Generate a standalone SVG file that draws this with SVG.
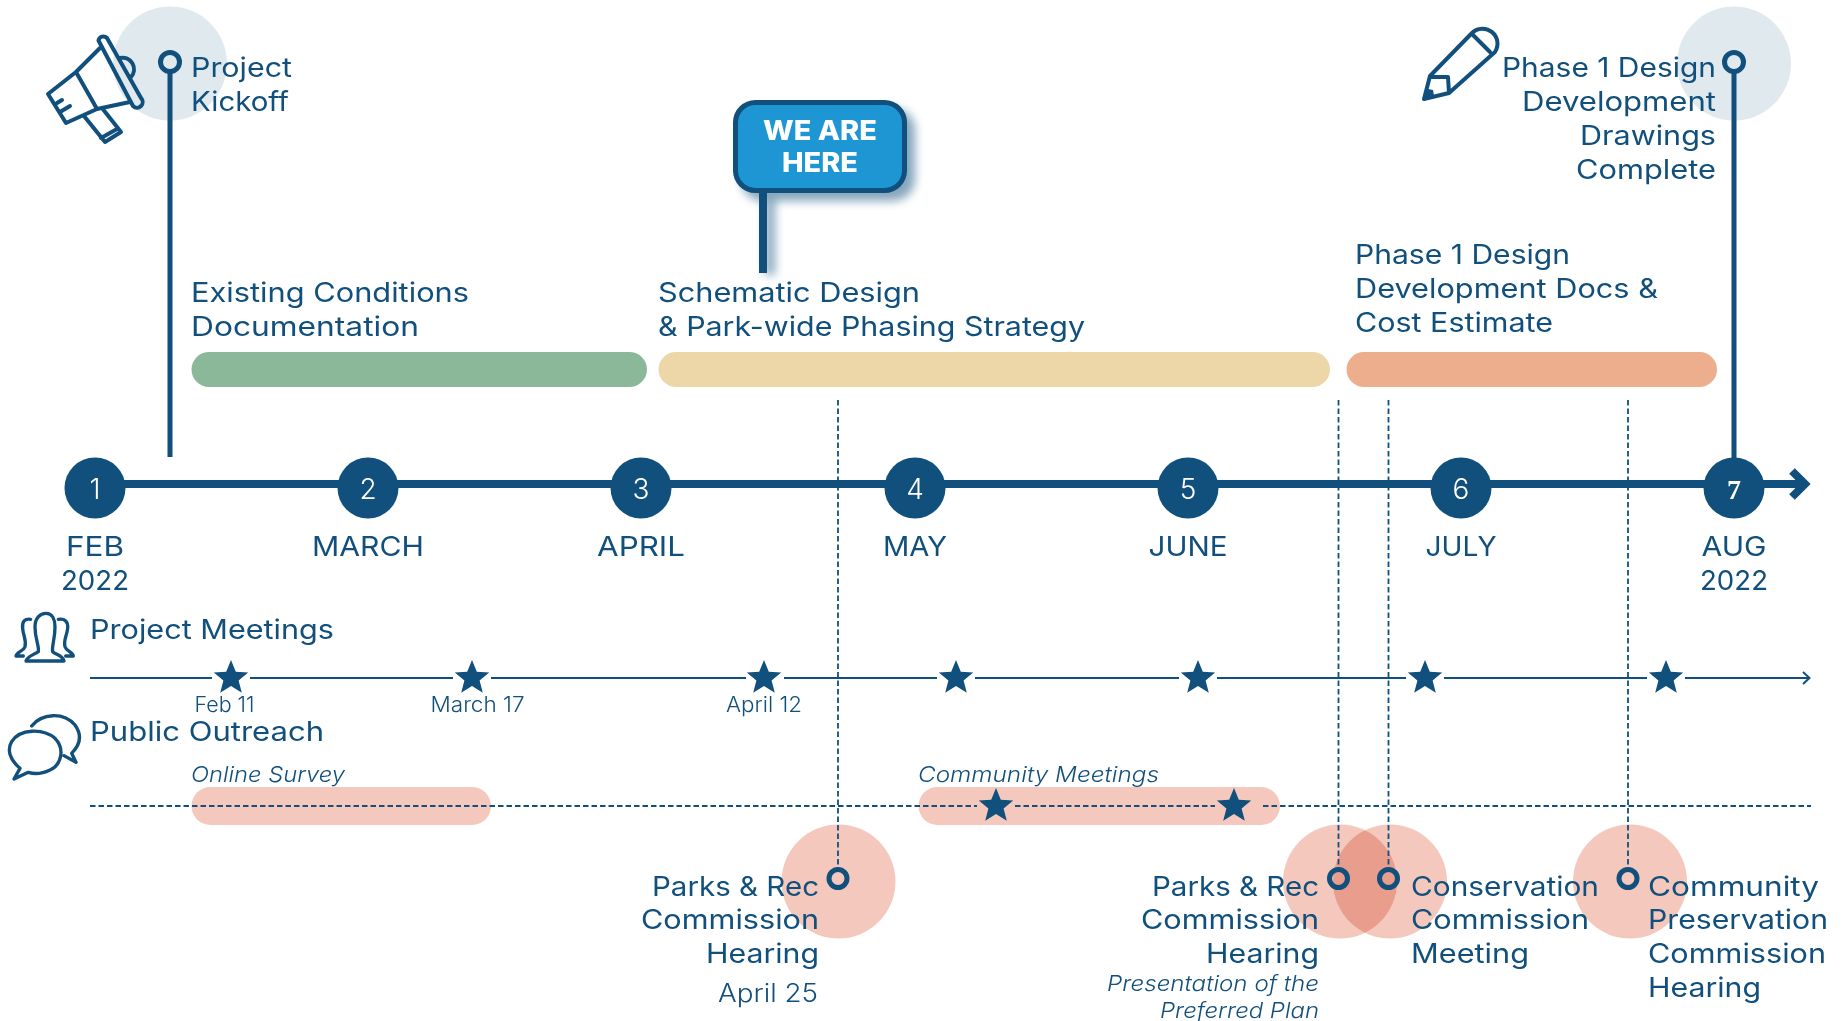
<svg xmlns="http://www.w3.org/2000/svg" width="1842" height="1021" viewBox="0 0 1842 1021">
<style>
text{font-family:"Inter","Liberation Sans",sans-serif;fill:#114f7c;font-weight:400}
.l{font-size:27px}
.e{text-anchor:end}
.m{text-anchor:middle}
.i{font-style:italic;font-size:22px;font-weight:300}
.d{font-size:21px;font-weight:300;text-anchor:middle}
.n{font-size:28px;fill:#fff;text-anchor:middle;font-weight:300}
.ic{fill:none;stroke:#114f7c;stroke-width:4;stroke-linejoin:round;stroke-linecap:round}
.pin{fill:none;stroke:#114f7c;stroke-width:5}
.halo{fill:#f4c8bd;mix-blend-mode:multiply}
.grey{fill:#e0e9ed}
.dash{fill:none;stroke:#114f7c;stroke-width:1.800;stroke-dasharray:5.500 3}
.thin{fill:none;stroke:#114f7c;stroke-width:2}
.dot{fill:#114f7c}
</style>
<defs>
<polygon id="star" points="0,-18 4.800,-6.200 17.200,-5.500 7.600,2.500 10.800,14.800 0,8 -10.800,14.800 -7.600,2.500 -17.200,-5.500 -4.800,-6.200" fill="#114f7c"/>
<filter id="sh" x="-20%" y="-20%" width="150%" height="150%"><feGaussianBlur stdDeviation="5"/></filter>
</defs>

<g id="bars">
<rect x="191.500" y="352" width="455.500" height="35" rx="17.500" fill="#8cb89a"/>
<rect x="658.500" y="352" width="671.500" height="35" rx="17.500" fill="#edd7a8"/>
<rect x="1346.500" y="352" width="370.500" height="35" rx="17.500" fill="#ecae8c"/>
<rect x="191.500" y="787" width="299.500" height="38" rx="19" fill="#f4c8bd"/>
<rect x="918.500" y="787" width="361.500" height="38" rx="19" fill="#f4c8bd"/>
</g>

<g id="halos">
<circle class="grey" cx="170" cy="63.500" r="57"/>
<circle class="grey" cx="1734" cy="63.500" r="57"/>
<circle class="halo" cx="838.500" cy="881.500" r="57"/>
<circle class="halo" cx="1340" cy="881.500" r="57"/>
<circle class="halo" cx="1390" cy="881.500" r="57"/>
<circle class="halo" cx="1630" cy="881.500" r="57"/>
</g>

<g id="connectors">
<path d="M170 72V457M1734 72V458" fill="none" stroke="#114f7c" stroke-width="5"/>
<path d="M95 484H1802" fill="none" stroke="#114f7c" stroke-width="8"/>
<path d="M1792 471L1805 484L1792 497" fill="none" stroke="#114f7c" stroke-width="8"/>
<path class="thin" d="M90 678H212M250 678H453M491 678H746M784 678H937M975 678H1179M1217 678H1406M1444 678H1647M1685 678H1809M1803 672L1809.500 678L1803 684"/>
<path class="dash" d="M90 806H977M1015 806H1215M1263 806H1811"/>
<path class="dash" d="M838 400V868M1338.500 400V868M1388.500 400V868M1628 400V868"/>
</g>

<g id="project-kickoff">
<circle class="pin" cx="170" cy="62" r="9.500"/>
<text class="l" x="191" y="77" textLength="101" lengthAdjust="spacingAndGlyphs">Project</text>
<text class="l" x="191" y="111" textLength="98" lengthAdjust="spacingAndGlyphs">Kickoff</text>
<path class="ic" d="M48 94L66 123L97 109L76 72ZM76 72L100 48M97 109L130 102M84 116L105 142L121 132L102 108M101 138L117 129M57 103L62 100M60 112L70 106M120 58A11.500 11.500 0 0 1 131 77"/>
<path class="ic" d="M98.500 40.500A5 5 0 0 1 107 38L141 98A5 5 0 0 1 133 106Z"/>
</g>

<g id="phase1-complete">
<circle class="pin" cx="1734" cy="62" r="9.500"/>
<text class="l e" x="1716" y="77" textLength="214" lengthAdjust="spacingAndGlyphs">Phase 1 Design</text>
<text class="l e" x="1716" y="111" textLength="194" lengthAdjust="spacingAndGlyphs">Development</text>
<text class="l e" x="1716" y="145" textLength="136" lengthAdjust="spacingAndGlyphs">Drawings</text>
<text class="l e" x="1716" y="179" textLength="140" lengthAdjust="spacingAndGlyphs">Complete</text>
<path class="ic" d="M1430 76L1472 33A15 15 0 0 1 1495 52L1449 93L1424 99ZM1430 77H1448L1449 93M1473 35L1490 52"/>
<polygon points="1424,99 1434,96 1433,90 1428,89" fill="#114f7c"/>
</g>

<g id="we-are-here">
<g filter="url(#sh)" opacity=".5" fill="#114f7c"><rect x="741" y="108" width="174" height="93" rx="22"/><rect x="765" y="195" width="10" height="80"/></g>
<rect x="759" y="190" width="8" height="83" fill="#114f7c"/>
<rect x="735.500" y="102.500" width="169" height="88" rx="20" fill="#1e96d4" stroke="#114f7c" stroke-width="5"/>
<text x="820" y="140" class="m" style="fill:#fff;font-weight:800;font-size:27px" textLength="114" lengthAdjust="spacingAndGlyphs">WE ARE</text>
<text x="820" y="172" class="m" style="fill:#fff;font-weight:800;font-size:27px" textLength="76" lengthAdjust="spacingAndGlyphs">HERE</text>
</g>

<g id="phase-labels">
<text class="l" x="191" y="302" textLength="278" lengthAdjust="spacingAndGlyphs">Existing Conditions</text>
<text class="l" x="191" y="336" textLength="228" lengthAdjust="spacingAndGlyphs">Documentation</text>
<text class="l" x="658" y="302" textLength="262" lengthAdjust="spacingAndGlyphs">Schematic Design</text>
<text class="l" x="658" y="336" textLength="427" lengthAdjust="spacingAndGlyphs">&amp; Park-wide Phasing Strategy</text>
<text class="l" x="1355" y="264" textLength="215" lengthAdjust="spacingAndGlyphs">Phase 1 Design</text>
<text class="l" x="1355" y="298" textLength="303" lengthAdjust="spacingAndGlyphs">Development Docs &amp;</text>
<text class="l" x="1355" y="332" textLength="198" lengthAdjust="spacingAndGlyphs">Cost Estimate</text>
</g>

<g id="month-1"><circle class="dot" cx="95" cy="488" r="30.500"/><text class="n" x="95" y="499">1</text><text class="l m" x="95" y="556" textLength="58" lengthAdjust="spacingAndGlyphs">FEB</text><text class="l m" x="95" y="590" textLength="68" lengthAdjust="spacingAndGlyphs">2022</text></g>
<g id="month-2"><circle class="dot" cx="368" cy="488" r="30.500"/><text class="n" x="368" y="499">2</text><text class="l m" x="368" y="556" textLength="112" lengthAdjust="spacingAndGlyphs">MARCH</text></g>
<g id="month-3"><circle class="dot" cx="641" cy="488" r="30.500"/><text class="n" x="641" y="499">3</text><text class="l m" x="641" y="556" textLength="88" lengthAdjust="spacingAndGlyphs">APRIL</text></g>
<g id="month-4"><circle class="dot" cx="915" cy="488" r="30.500"/><text class="n" x="915" y="499">4</text><text class="l m" x="915" y="556" textLength="64" lengthAdjust="spacingAndGlyphs">MAY</text></g>
<g id="month-5"><circle class="dot" cx="1188" cy="488" r="30.500"/><text class="n" x="1188" y="499">5</text><text class="l m" x="1188" y="556" textLength="79" lengthAdjust="spacingAndGlyphs">JUNE</text></g>
<g id="month-6"><circle class="dot" cx="1461" cy="488" r="30.500"/><text class="n" x="1461" y="499">6</text><text class="l m" x="1461" y="556" textLength="71" lengthAdjust="spacingAndGlyphs">JULY</text></g>
<g id="month-7"><circle class="dot" cx="1734" cy="488" r="30.500"/><text class="n" x="1734" y="499" style="font-family:'Liberation Serif',serif;font-weight:700">7</text><text class="l m" x="1734" y="556" textLength="65" lengthAdjust="spacingAndGlyphs">AUG</text><text class="l m" x="1734" y="590" textLength="68" lengthAdjust="spacingAndGlyphs">2022</text></g>

<g id="project-meetings">
<g transform="translate(0 590) scale(.3333)"><path class="ic" style="stroke-width:10" d="M78 213C80 200 100 195 115 185C118 165 105 150 105 110C105 85 120 70 138 70C158 70 165 90 165 110C165 150 155 165 158 185C170 195 190 198 192 213ZM92 88C75 85 65 95 68 115C70 140 80 150 75 170C70 185 50 185 48 198L70 198M175 88C195 85 205 95 203 115C200 140 190 150 195 170C200 185 218 185 220 198L197 198"/></g>
<text class="l" x="90" y="639" textLength="244" lengthAdjust="spacingAndGlyphs">Project Meetings</text>
<use href="#star" x="231" y="678"/><use href="#star" x="472" y="678"/><use href="#star" x="764" y="678"/><use href="#star" x="956" y="678"/><use href="#star" x="1198" y="678"/><use href="#star" x="1425" y="678"/><use href="#star" x="1666" y="678"/>
<text class="d" x="224.500" y="712" textLength="60" lengthAdjust="spacingAndGlyphs">Feb 11</text>
<text class="d" x="477.500" y="712" textLength="94" lengthAdjust="spacingAndGlyphs">March 17</text>
<text class="d" x="764" y="712" textLength="76" lengthAdjust="spacingAndGlyphs">April 12</text>
</g>

<g id="public-outreach">
<g transform="translate(0 590) scale(.3333)"><path class="ic" style="stroke-width:10" d="M60 535C30 510 20 480 35 455C60 415 130 415 165 445C195 475 185 525 150 540C125 552 100 552 85 547L42 567ZM95 408C125 370 190 365 225 405C250 440 235 470 215 490L228 517L192 497"/></g>
<text class="l" x="90" y="741" textLength="234" lengthAdjust="spacingAndGlyphs">Public Outreach</text>
<text class="i" x="191" y="782" textLength="154" lengthAdjust="spacingAndGlyphs">Online Survey</text>
<text class="i" x="918" y="782" textLength="241" lengthAdjust="spacingAndGlyphs">Community Meetings</text>
<use href="#star" x="996" y="806"/><use href="#star" x="1234" y="806"/>
</g>

<g id="parks-april">
<circle class="pin" cx="838" cy="878.500" r="9"/>
<text class="l e" x="819" y="896" textLength="167" lengthAdjust="spacingAndGlyphs">Parks &amp; Rec</text>
<text class="l e" x="819" y="929" textLength="178" lengthAdjust="spacingAndGlyphs">Commission</text>
<text class="l e" x="819" y="963" textLength="113" lengthAdjust="spacingAndGlyphs">Hearing</text>
<text class="e" x="818" y="1002" style="font-size:25px;font-weight:300" textLength="100" lengthAdjust="spacingAndGlyphs">April 25</text>
</g>

<g id="parks-plan">
<circle class="pin" cx="1338.500" cy="878.500" r="9"/>
<text class="l e" x="1319" y="896" textLength="167" lengthAdjust="spacingAndGlyphs">Parks &amp; Rec</text>
<text class="l e" x="1319" y="929" textLength="178" lengthAdjust="spacingAndGlyphs">Commission</text>
<text class="l e" x="1319" y="963" textLength="113" lengthAdjust="spacingAndGlyphs">Hearing</text>
<text class="i e" x="1319" y="991" textLength="212" lengthAdjust="spacingAndGlyphs">Presentation of the</text>
<text class="i e" x="1319" y="1018" textLength="159" lengthAdjust="spacingAndGlyphs">Preferred Plan</text>
</g>

<g id="conservation">
<circle class="pin" cx="1388.500" cy="878.500" r="9"/>
<text class="l" x="1411" y="896" textLength="188" lengthAdjust="spacingAndGlyphs">Conservation</text>
<text class="l" x="1411" y="929" textLength="178" lengthAdjust="spacingAndGlyphs">Commission</text>
<text class="l" x="1411" y="963" textLength="118" lengthAdjust="spacingAndGlyphs">Meeting</text>
</g>

<g id="community-preservation">
<circle class="pin" cx="1628" cy="878.500" r="9"/>
<text class="l" x="1648" y="896" textLength="171" lengthAdjust="spacingAndGlyphs">Community</text>
<text class="l" x="1648" y="929" textLength="180" lengthAdjust="spacingAndGlyphs">Preservation</text>
<text class="l" x="1648" y="963" textLength="178" lengthAdjust="spacingAndGlyphs">Commission</text>
<text class="l" x="1648" y="997" textLength="113" lengthAdjust="spacingAndGlyphs">Hearing</text>
</g>
</svg>
